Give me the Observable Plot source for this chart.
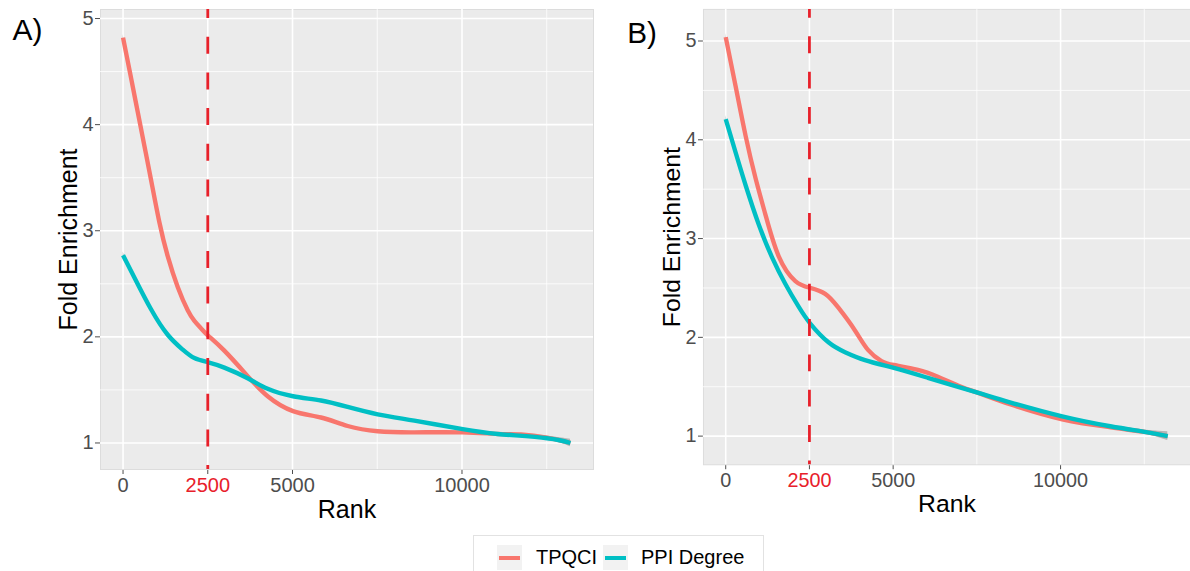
<!DOCTYPE html>
<html><head><meta charset="utf-8">
<script src="https://cdn.jsdelivr.net/npm/d3@7"></script>
<script src="https://cdn.jsdelivr.net/npm/@observablehq/plot@0.6"></script>
<style>
body{margin:0;background:#fff;overflow:hidden;font-family:"Liberation Sans",Arial,sans-serif}
#wrap{position:relative;width:1190px;height:571px;overflow:hidden;background:#fff}
#pA{position:absolute;left:0;top:0}
#pB{position:absolute;left:600px;top:0}
#legend{position:absolute;left:473px;top:535px;width:291px;height:50px;border:1px solid #e2e2e2;box-sizing:border-box;background:#fff}
.key{position:absolute;top:9px;width:25px;height:25px;background:#f2f2f2}
.key i{position:absolute;left:2px;right:2px;top:10.5px;height:4px;display:block}
.lab{position:absolute;top:8px;font-size:20px;line-height:26px;color:#000}
</style></head><body>
<div id="wrap"><div id="pA"></div><div id="pB"></div><div id="legend"></div></div>
<script>
// ---- data ----
const seriesNames = ["TPQCI", "PPI Degree"];
const seriesColors = ["#F8766D", "#00BFC4"];
const xTicks = [0, 2500, 5000, 10000];
const xGridMinor = [7500, 12500];
const yTicks = [1, 2, 3, 4, 5];
const yGridMinor = [1.5, 2.5, 3.5, 4.5];
const cutoffRank = 2500;
const panelLabels = ["A)", "B)"];
const xTitle = "Rank";
const yTitle = "Fold Enrichment";

// Panel A
const rankA_TPQCI = [0, 236, 433, 630, 826, 1072, 1318, 1613, 1908, 2105, 2300, 2516, 2988, 3677, 4267, 5015, 5840, 6628, 7513, 8594, 10021, 11053, 11740, 12507, 13200];
const foldA_TPQCI = [4.82, 4.44, 4.12, 3.80, 3.48, 3.08, 2.76, 2.47, 2.25, 2.15, 2.08, 2.01, 1.87, 1.63, 1.44, 1.30, 1.24, 1.16, 1.11, 1.10, 1.10, 1.085, 1.08, 1.05, 1.00];
const seA_TPQCI   = [0.03, 0.015, 0.01, 0.008, 0.008, 0.008, 0.008, 0.008, 0.008, 0.008, 0.008, 0.008, 0.008, 0.008, 0.008, 0.008, 0.008, 0.008, 0.008, 0.008, 0.008, 0.008, 0.01, 0.016, 0.035];
const rankA_PPI = [0, 334, 826, 1318, 1760, 2105, 2516, 2988, 3677, 4267, 5015, 5840, 6628, 7513, 8594, 10021, 11053, 12507, 13200];
const foldA_PPI = [2.77, 2.56, 2.26, 2.02, 1.88, 1.80, 1.76, 1.71, 1.61, 1.51, 1.44, 1.40, 1.34, 1.27, 1.21, 1.13, 1.085, 1.045, 1.00];
const seA_PPI   = [0.03, 0.012, 0.008, 0.008, 0.008, 0.008, 0.008, 0.008, 0.008, 0.008, 0.008, 0.008, 0.008, 0.008, 0.008, 0.008, 0.01, 0.016, 0.035];

// Panel B
const rankB_TPQCI = [0, 297, 594, 891, 1188, 1583, 2079, 2524, 2970, 3365, 3860, 4256, 4652, 5019, 5741, 6335, 7028, 7523, 8512, 10048, 11483, 12552, 13200];
const foldB_TPQCI = [5.04, 4.54, 4.04, 3.61, 3.24, 2.82, 2.57, 2.50, 2.44, 2.30, 2.07, 1.87, 1.76, 1.72, 1.67, 1.60, 1.50, 1.44, 1.32, 1.17, 1.09, 1.04, 1.00];
const seB_TPQCI   = [0.035, 0.015, 0.01, 0.008, 0.008, 0.008, 0.008, 0.008, 0.008, 0.008, 0.008, 0.008, 0.008, 0.008, 0.008, 0.008, 0.008, 0.008, 0.008, 0.008, 0.012, 0.02, 0.045];
const rankB_PPI = [0, 297, 594, 989, 1384, 1782, 2177, 2524, 3068, 3564, 4158, 5019, 6038, 7523, 8512, 10048, 11483, 12552, 13200];
const foldB_PPI = [4.21, 3.87, 3.54, 3.14, 2.81, 2.54, 2.31, 2.14, 1.95, 1.85, 1.77, 1.69, 1.59, 1.44, 1.34, 1.20, 1.10, 1.04, 1.00];
const seB_PPI   = [0.035, 0.015, 0.01, 0.008, 0.008, 0.008, 0.008, 0.008, 0.008, 0.008, 0.008, 0.008, 0.008, 0.008, 0.008, 0.01, 0.012, 0.02, 0.045];

function rows(ranks, folds, se, name) {
  return ranks.map((r, i) => ({rank: r, fold: folds[i], lo: folds[i] - se[i], hi: folds[i] + se[i], series: name}));
}

function panel(target, label, data, yDomain, cfg) {
  const svg = Plot.plot({
    width: cfg.width, height: 530,
    marginLeft: cfg.marginLeft, marginRight: cfg.marginRight, marginTop: 9, marginBottom: 61,
    style: {fontFamily: "Liberation Sans, Arial, sans-serif", fontSize: "20px", color: "#4d4d4d", background: "transparent", overflow: "visible"},
    x: {domain: [-665, 13880], ticks: xTicks, tickFormat: d => String(d), tickSize: 5, tickPadding: 3, label: null},
    y: {domain: yDomain, ticks: yTicks, tickFormat: d => String(d), tickSize: 5, tickPadding: 2, label: null},
    color: {domain: seriesNames, range: seriesColors},
    marks: [
      Plot.frame({fill: "#ebebeb", stroke: "#dcdcdc"}),
      Plot.ruleY(yGridMinor, {stroke: "#fff", strokeWidth: 0.8}),
      Plot.ruleX(xGridMinor, {stroke: "#fff", strokeWidth: 0.8}),
      Plot.ruleY(yTicks, {stroke: "#fff", strokeWidth: 1.6}),
      Plot.ruleX(xTicks, {stroke: "#fff", strokeWidth: 1.6}),
      Plot.areaY(data, {x: "rank", y1: "lo", y2: "hi", z: "series", fill: "#999999", fillOpacity: 0.4, curve: "natural"}),
      Plot.line(data, {x: "rank", y: "fold", stroke: "series", z: "series", curve: "natural", strokeWidth: 4.4, strokeLinecap: "butt"}),
      Plot.ruleX([cutoffRank], {stroke: "#e8202a", strokeWidth: 2.8, strokeDasharray: "17 18.7", strokeDashoffset: 8}),
      Plot.text([xTitle], {text: d => d, frameAnchor: "bottom", textAnchor: "middle", lineAnchor: "middle", dy: 40, fontSize: 25, fill: "#000"}),
      Plot.text([yTitle], {text: d => d, frameAnchor: "left", textAnchor: "middle", lineAnchor: "middle", rotate: -90, dx: -32, fontSize: 25, fill: "#000"}),
      Plot.text([label], {text: d => d, frameAnchor: "top-left", textAnchor: "start", lineAnchor: "top", dx: cfg.labelDx, dy: cfg.labelDy, fontSize: 30, fill: "#000"})
    ]
  });
  d3.select(svg).selectAll("text").filter(function() { return this.textContent === String(cutoffRank); }).attr("fill", "#e8202a");
  document.getElementById(target).appendChild(svg);
}

panel("pA", panelLabels[0],
  rows(rankA_TPQCI, foldA_TPQCI, seA_TPQCI, seriesNames[0]).concat(rows(rankA_PPI, foldA_PPI, seA_PPI, seriesNames[1])),
  [0.75, 5.085], {width: 600, marginLeft: 100, marginRight: 7, labelDx: -88, labelDy: 9});
panel("pB", panelLabels[1],
  rows(rankB_TPQCI, foldB_TPQCI, seB_TPQCI, seriesNames[0]).concat(rows(rankB_PPI, foldB_PPI, seB_PPI, seriesNames[1])),
  [0.71, 5.32], {width: 596, marginLeft: 104, marginRight: 0, labelDx: -77, labelDy: 13});

// legend
const lg = document.getElementById("legend");
const keyX = [23, 129], labX = [62, 167];
seriesNames.forEach((n, i) => {
  const k = document.createElement("div"); k.className = "key"; k.style.left = keyX[i] + "px";
  const line = document.createElement("i"); line.style.background = seriesColors[i]; k.appendChild(line);
  lg.appendChild(k);
  const t = document.createElement("div"); t.className = "lab"; t.style.left = labX[i] + "px"; t.textContent = n;
  lg.appendChild(t);
});
</script>
</body></html>
